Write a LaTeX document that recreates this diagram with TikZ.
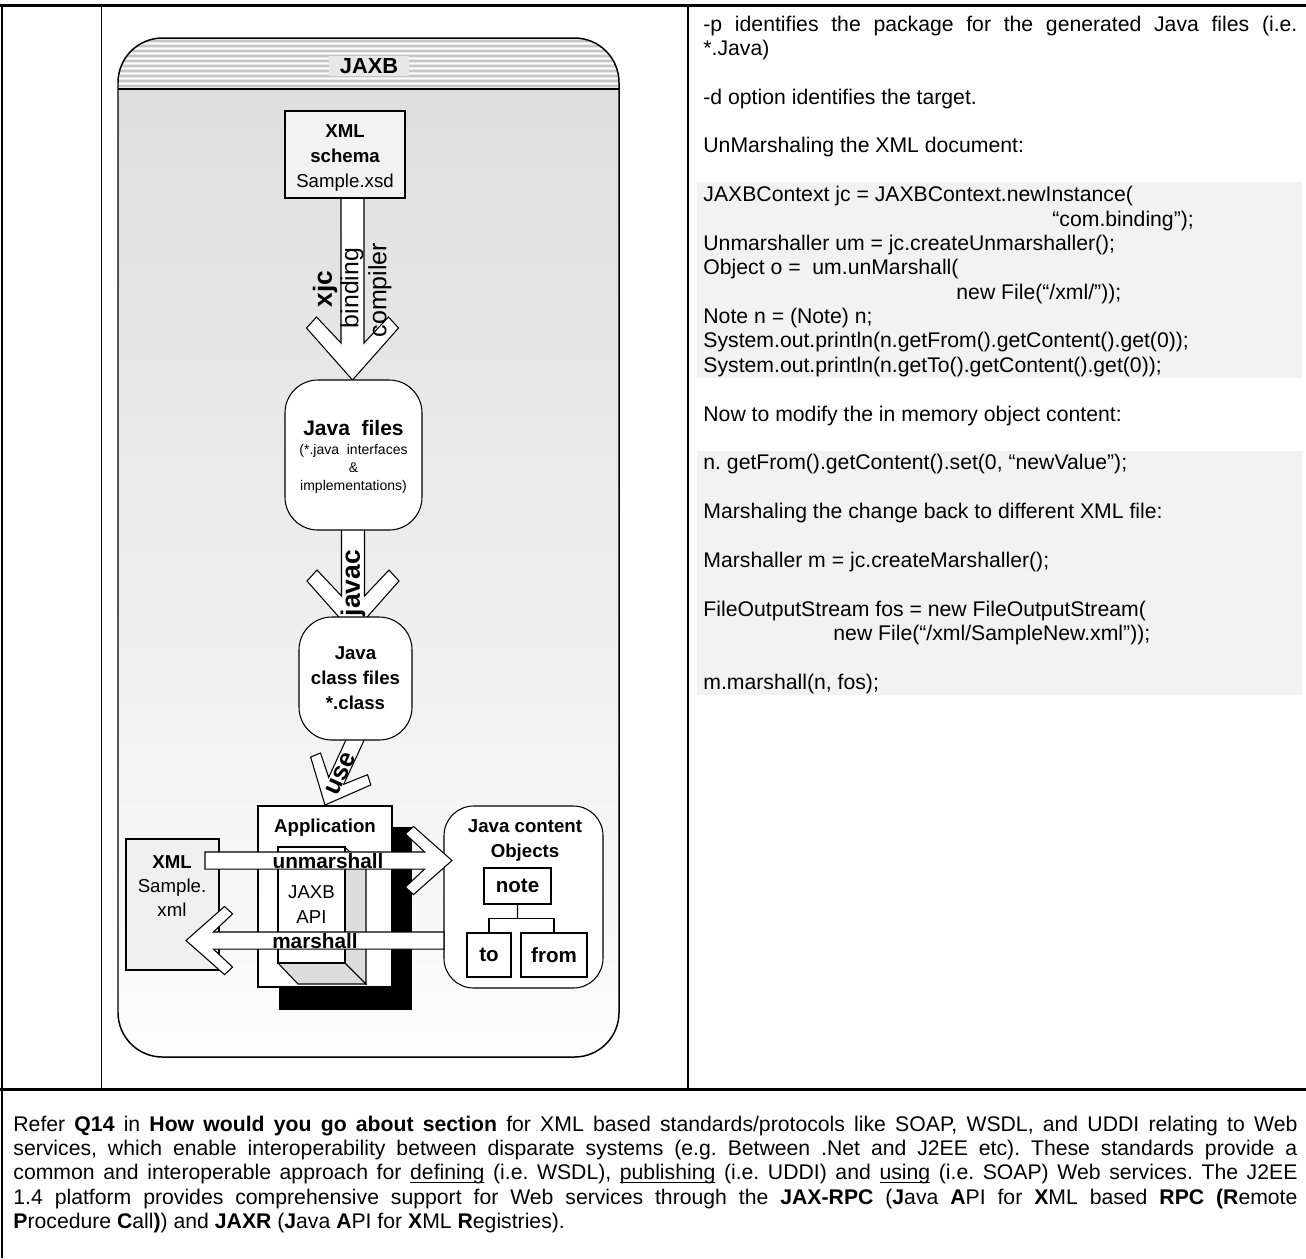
\documentclass[tikz,border=0pt]{standalone}
\usepackage{fontspec}
\setmainfont{Liberation Sans}
\usetikzlibrary{calc}
\newdimen\pxu \pxu=0.4717pt
\newsavebox\ulbox
\newcommand\chevarrow[2]{\draw[arrowbox] (-11.5*#1,-#2) -- (-11.5*#1,-37*#1) -- (-36*#1,-63*#1) -- (-46*#1,-52*#1) -- (0,0) -- (46*#1,-52*#1) -- (36*#1,-63*#1) -- (11.5*#1,-37*#1) -- (11.5*#1,-#2) -- cycle;}
\newcommand\myul[1]{\sbox\ulbox{#1}\rlap{\rule[-1.6pt]{\wd\ulbox}{0.45pt}}\usebox\ulbox}
\tikzset{
  arrowbox/.style={draw=black, fill=white, line width=0.5pt, line join=miter},
  box/.style={draw=black, fill=white, line width=0.5pt, inner sep=0pt},
  lbl/.style={font=\fontsize{8.8}{11.8}\selectfont\bfseries, inner sep=0pt, align=center},
  big/.style={font=\fontsize{9.7}{11}\selectfont\bfseries, inner sep=0pt},
  rot/.style={rotate=90, inner sep=0pt},
  tline/.style={line width=1.4pt},
  cline/.style={line width=0.8pt},
  body/.style={inner sep=0pt, align=justify, font=\fontsize{10}{11.5}\selectfont\frenchspacing}
}
\begin{document}
\begin{tikzpicture}[x=0.4717pt,y=-0.4717pt]
\useasboundingbox (0,0) rectangle (1306,1258);
\fill[white] (0,0) rectangle (1306,1258);

% ---------- JAXB container ----------
\shade[top color=gray!27, bottom color=gray!2, rounded corners=21pt] (118,38) rectangle (619,1057);
\begin{scope}
  \clip[rounded corners=21pt] (118,38) rectangle (619,1057);
  \fill[gray!18] (118,38) rectangle (619,89);
  \foreach \k in {0,...,9} {
    \draw[gray!45, line width=0.6pt] (118,41+5*\k) -- (619,41+5*\k);
    \draw[white, line width=0.6pt] (118,43.5+5*\k) -- (619,43.5+5*\k);
  }
\end{scope}
\draw[line width=0.7pt] (118,89) -- (619,89);
\draw[line width=0.7pt, rounded corners=21pt] (118,38) rectangle (619,1057);
\node[fill=gray!18, inner xsep=5pt, inner ysep=1pt, font=\fontsize{10.3}{12}\selectfont\bfseries] (jaxb) at (369,66) {JAXB};

% ---------- vertical flow arrows ----------
\begin{scope}[shift={(352.5,380)}] \chevarrow{1}{184} \end{scope}
\begin{scope}[shift={(353,633)}] \chevarrow{1}{105} \end{scope}
\begin{scope}[shift={(325,805)}, rotate=-24.8] \chevarrow{0.72}{80} \end{scope}

% ---------- upper boxes ----------
\node[box, fill=gray!10, minimum width=120*\pxu, minimum height=87*\pxu] (xsd) at (345,154.5) {};
\node[lbl] (xsdt) at (345,158) {XML\\schema\\\mdseries Sample.xsd};

\node[box, rounded corners=15.5pt, minimum width=137*\pxu, minimum height=150*\pxu] (jfiles) at (353.5,455) {};
\node[inner sep=0pt, font=\fontsize{9.9}{11}\selectfont\bfseries] (jft) at (353.5,428) {Java\ \ files};
\node[inner sep=0pt, align=center, font=\fontsize{6.6}{8.5}\selectfont] (jfs) at (353.5,469) {(*.java\ \ interfaces\\\&\\implementations)};

\node[box, rounded corners=15.5pt, minimum width=113*\pxu, minimum height=123*\pxu] (jclass) at (355.5,678.5) {};
\node[lbl] (jclt) at (355.5,678) {Java\\class files\\*.class};

% arrow labels
\node[rot, font=\fontsize{12.4}{14}\selectfont\bfseries] (xjc) at (325,289) {xjc};
\node[rot, font=\fontsize{11.7}{14}\selectfont] (bind) at (352,288) {binding};
\node[rot, font=\fontsize{11.8}{14}\selectfont] (comp) at (380,290) {compiler};
\node[rot, font=\fontsize{12.5}{14}\selectfont\bfseries] (javac) at (353,583) {javac};
\node[rotate=65.2, inner sep=0pt, font=\fontsize{12}{14}\selectfont\bfseries] (use) at (341,774) {use};

% ---------- application region ----------
\fill[black] (279,827) rectangle (412,1010);
\node[box, minimum width=134*\pxu, minimum height=181*\pxu] (app) at (325,896.5) {};
\node[lbl] (appt) at (325,828) {Application};

\filldraw[fill=gray!27, draw=black, line width=0.5pt] (345,847) -- (366,868) -- (366,984) -- (345,963) -- cycle;
\filldraw[fill=gray!27, draw=black, line width=0.5pt] (278,963) -- (345,963) -- (366,984) -- (298,984) -- cycle;
\node[box, minimum width=67*\pxu, minimum height=116*\pxu] (api) at (311.5,905) {};
\node[lbl, font=\fontsize{8.8}{11.8}\selectfont] (apit) at (311.5,904.5) {JAXB\\API};

\node[box, fill=gray!12, minimum width=93*\pxu, minimum height=131*\pxu] (xmlf) at (172.5,904.5) {};
\node[lbl, font=\fontsize{8.8}{11.3}\selectfont\bfseries] (xmlft) at (172,886) {XML\\\mdseries Sample.\\\mdseries xml};

\node[box, rounded corners=14pt, minimum width=159*\pxu, minimum height=182*\pxu] (jco) at (523.5,897) {};
\node[lbl] (jcot) at (525,840.5) {Java content\\Objects};
\node[box, big, minimum width=67*\pxu, minimum height=36*\pxu] (note) at (517.5,886) {note};
\node[box, big, minimum width=44*\pxu, minimum height=44*\pxu] (to) at (489,955) {to};
\node[box, big, minimum width=66*\pxu, minimum height=44*\pxu] (from) at (554,955) {from};
\coordinate (bar) at ($(note.south)!0.5!(note.south |- to.north)$);
\draw[line width=0.5pt] (note.south) -- (bar);
\draw[line width=0.5pt] (to.north) |- (bar) -| (from.north);

% unmarshall / marshall arrows
\begin{scope}[shift={(452,860.5)}, rotate=90] \chevarrow{0.74}{247} \end{scope}
\begin{scope}[shift={(186,940.5)}, rotate=-90] \chevarrow{0.74}{258} \end{scope}
\node[font=\fontsize{9.8}{11}\selectfont\bfseries, inner sep=0pt] (unm) at (328,861) {unmarshall};
\node[font=\fontsize{9.8}{11}\selectfont\bfseries, inner sep=0pt] (msh) at (315,941) {marshall};

% ---------- right column ----------
\fill[gray!10] (697,182) rectangle (1302,378);
\fill[gray!10] (697,451) rectangle (1302,695);
\node[body, anchor=base west, text width=594*\pxu] (rcol) at (703,31) {%
-p identifies the package for the generated Java files (i.e.\linebreak
*.Java)\\[11.5pt]
-d option identifies the target.\\[11.5pt]
UnMarshaling the XML document:\\[11.5pt]
JAXBContext jc = JAXBContext.newInstance(\\
\hspace*{349\pxu}“com.binding”);\\
Unmarshaller um = jc.createUnmarshaller();\\
Object o = \ um.unMarshall(\\
\hspace*{253\pxu}new File(“/xml/”));\\
Note n = (Note) n;\\
System.out.println(n.getFrom().getContent().get(0));\\
System.out.println(n.getTo().getContent().get(0));\\[11.5pt]
Now to modify the in memory object content:\\[11.5pt]
n. getFrom().getContent().set(0, “newValue”);\\[11.5pt]
Marshaling the change back to different XML file:\\[11.5pt]
Marshaller m = jc.createMarshaller();\\[11.5pt]
FileOutputStream fos = new FileOutputStream(\\
\hspace*{130\pxu}new File(“/xml/SampleNew.xml”));\\[11.5pt]
m.marshall(n, fos);};

% ---------- bottom paragraph ----------
\node[body, anchor=base west, text width=1284*\pxu] (para) at (13,1131) {%
Refer \textbf{Q14} in \textbf{How would you go about section} for XML based standards/protocols like SOAP, WSDL, and UDDI relating to Web\linebreak
services, which enable interoperability between disparate systems (e.g. Between .Net and J2EE etc). These standards provide a\linebreak
common and interoperable approach for \myul{defining} (i.e. WSDL), \myul{publishing} (i.e. UDDI) and \myul{using} (i.e. SOAP) Web services. The J2EE\linebreak
1.4 platform provides comprehensive support for Web services through the \textbf{JAX-RPC} (\textbf{J}ava \textbf{A}PI for \textbf{X}ML based \textbf{RPC (R}emote\linebreak
\textbf{P}rocedure \textbf{C}all\textbf{)}) and \textbf{JAXR} (\textbf{J}ava \textbf{A}PI for \textbf{X}ML \textbf{R}egistries).};

% ---------- table rules ----------
\draw[tline] (0,5.5) -- (1306,5.5);
\draw[tline] (2,5.5) -- (2,1258);
\draw[cline] (101.5,5.5) -- (101.5,1089);
\draw[cline] (688,5.5) -- (688,1089);
\draw[tline] (0,1089) -- (1306,1089);
\end{tikzpicture}
\end{document}
